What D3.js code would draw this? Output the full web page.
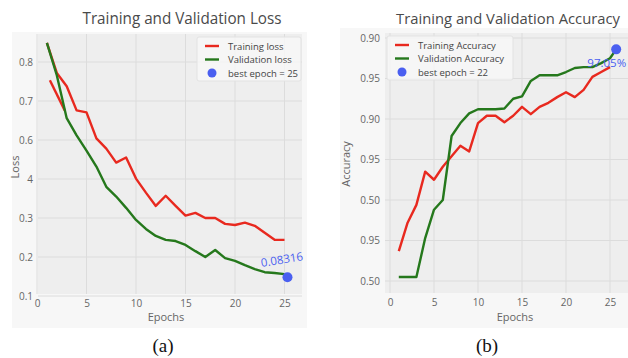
<!DOCTYPE html>
<html lang="en">
<head>
    <meta charset="UTF-8">
    <title>Training and Validation Loss / Accuracy</title>
    <script src="https://d3js.org/d3.v7.min.js"></script>
    <style>
        body { margin: 0; background: #fff; }
        text { font-family: "Open Sans", "DejaVu Sans", sans-serif; }
        .tick text { font-size: 10px; fill: #666; }
        .title { fill: #4a4a4a; }
        .axis-label { font-size: 11px; fill: #666; }
        .legend text { font-size: 9.5px; fill: #444; }
        .caption { font-family: "Liberation Serif", serif; font-size: 19px; fill: #111; }
    </style>
</head>
<body>
    <svg width="628" height="358"></svg>

    <script>
        // epochs 1..25
        const epochs = d3.range(1, 26);

        // loss panel
        const trainLoss = [0.849, 0.772, 0.738, 0.676, 0.671, 0.604, 0.578, 0.542, 0.555, 0.501,
                           0.465, 0.431, 0.457, 0.431, 0.406, 0.413, 0.400, 0.400, 0.385, 0.382,
                           0.388, 0.380, 0.362, 0.344, 0.344];
        const trainLossEarly = [[1.3, 0.753], [2.8, 0.676]];
        const valLoss = [0.849, 0.766, 0.656, 0.612, 0.573, 0.532, 0.480, 0.455, 0.426, 0.395,
                         0.372, 0.354, 0.344, 0.341, 0.331, 0.315, 0.300, 0.318, 0.297, 0.290,
                         0.279, 0.269, 0.261, 0.259, 0.256];
        const bestLoss = { epoch: 25.3, value: 0.248, label: "0.08316" };
        const lossTicks = [0.8, 0.7, 0.6, 0.5, 0.4, 0.3, 0.2];
        const lossTickLabels = ["0.8", "0.7", "0.6", "4", "0.3", "0.2", "0.1"];
        const lossLegend = ["Training loss", "Validation loss", "best epoch = 25"];

        // accuracy panel
        const trainAcc = [0.737, 0.772, 0.794, 0.835, 0.825, 0.841, 0.854, 0.867, 0.860, 0.895,
                          0.904, 0.904, 0.896, 0.904, 0.915, 0.906, 0.915, 0.920, 0.927, 0.933,
                          0.927, 0.936, 0.952, 0.958, 0.964];
        const valAcc = [0.705, 0.705, 0.705, 0.753, 0.788, 0.800, 0.879, 0.895, 0.907, 0.912,
                        0.912, 0.912, 0.913, 0.925, 0.928, 0.947, 0.954, 0.954, 0.954, 0.958,
                        0.963, 0.964, 0.964, 0.969, 0.975];
        const bestAcc = { epoch: 25.7, value: 0.986, label: "97.05%" };
        const accTicks = [1.00, 0.95, 0.90, 0.85, 0.80, 0.75, 0.70];
        const accTickLabels = ["0.90", "0.95", "0.90", "0.95", "0.50", "0.95", "0.50"];
        const accLegend = ["Training Accuracy", "Validation Accuracy", "best epoch = 22"];

        const xTicks = [0, 5, 10, 15, 20, 25];

        const red = "#e8291f", green = "#25781c", blue = "#4a5ff0";

        const svg = d3.select("svg");

        function drawPanel(p) {
            const g = svg.append("g");

            // figure background and plot area
            g.append("rect").attr("x", p.fig[0]).attr("y", p.fig[1])
                .attr("width", p.fig[2]).attr("height", p.fig[3]).attr("fill", "#f7f7f7");
            g.append("rect").attr("x", p.plot[0]).attr("y", p.plot[1])
                .attr("width", p.plot[2]).attr("height", p.plot[3]).attr("fill", "#eeeeee");

            const x = d3.scaleLinear().domain([0, 25]).range(p.xRange);
            const y = d3.scaleLinear().domain(p.yDomain).range(p.yRange);
            const top = p.plot[1], bottom = p.plot[1] + p.plot[3];
            const left = p.plot[0], right = p.plot[0] + p.plot[2];

            // grid
            g.selectAll(".vgrid").data(xTicks).enter().append("line")
                .attr("x1", d => x(d)).attr("x2", d => x(d))
                .attr("y1", top).attr("y2", bottom)
                .attr("stroke", "#dcdcdc").attr("stroke-width", 1);
            g.selectAll(".hgrid").data(p.yTicks).enter().append("line")
                .attr("x1", left).attr("x2", right)
                .attr("y1", d => y(d)).attr("y2", d => y(d))
                .attr("stroke", "#dcdcdc").attr("stroke-width", 1);

            // axes
            g.append("g").attr("transform", `translate(0,${bottom})`)
                .call(d3.axisBottom(x).tickValues(xTicks).tickSize(0).tickPadding(6))
                .call(a => a.select(".domain").remove());
            g.append("g").attr("transform", `translate(${left - 1},0)`)
                .call(d3.axisLeft(y).tickValues(p.yTicks)
                    .tickFormat((d, i) => p.yTickLabels[i]).tickSize(0).tickPadding(4))
                .call(a => a.select(".domain").remove());

            // lines
            const line = d3.line().x(d => x(d[0])).y(d => y(d[1]));
            p.lines.forEach(l => {
                g.append("path").datum(l.data)
                    .attr("d", line).attr("fill", "none")
                    .attr("stroke", l.color).attr("stroke-width", 2.4)
                    .attr("stroke-linejoin", "round");
            });

            // best point
            g.append("circle").attr("cx", x(p.best.epoch)).attr("cy", y(p.best.value))
                .attr("r", 5).attr("fill", blue);
            g.append("text")
                .attr("transform", `translate(${x(p.best.epoch) + p.labelOff[0]},${y(p.best.value) + p.labelOff[1]}) rotate(${p.labelRot})`)
                .attr("text-anchor", "end").attr("fill", blue).attr("font-size", 11.5)
                .text(p.best.label);

            // titles
            g.append("text").attr("class", "title")
                .attr("x", p.titlePos[0]).attr("y", p.titlePos[1])
                .attr("text-anchor", p.titleAnchor).attr("font-size", p.titleSize)
                .attr("textLength", p.titleLen).attr("lengthAdjust", "spacingAndGlyphs")
                .text(p.title);
            g.append("text").attr("class", "axis-label")
                .attr("x", p.xLabelX).attr("y", 321)
                .attr("text-anchor", "middle").text("Epochs");
            g.append("text").attr("class", "axis-label")
                .attr("transform", `translate(${p.yLabelPos[0]},${p.yLabelPos[1]}) rotate(-90)`)
                .attr("text-anchor", "middle").text(p.yLabel);

            // legend
            const lg = g.append("g").attr("class", "legend")
                .attr("transform", `translate(${p.legendPos[0]},${p.legendPos[1]})`);
            lg.append("rect").attr("width", p.legendW).attr("height", 44).attr("rx", 2)
                .attr("fill", "#f7f7f7").attr("fill-opacity", 0.85)
                .attr("stroke", "#e2e2e2");
            const colors = [red, green, blue];
            p.legend.forEach((t, i) => {
                const ly = 9 + i * 13.5;
                if (i < 2) {
                    lg.append("line").attr("x1", 8).attr("x2", 22).attr("y1", ly).attr("y2", ly)
                        .attr("stroke", colors[i]).attr("stroke-width", 2.4);
                } else {
                    lg.append("circle").attr("cx", 15).attr("cy", ly).attr("r", 4.5).attr("fill", blue);
                }
                lg.append("text").attr("x", 31).attr("y", ly + 3.5).text(t);
            });

            // caption
            svg.append("text").attr("class", "caption")
                .attr("x", p.caption[0]).attr("y", 352)
                .attr("text-anchor", "middle").text(p.caption[1]);
        }

        drawPanel({
            fig: [12, 32, 295, 296],
            plot: [38, 34, 264, 260],
            xRange: [37, 284.5],
            yDomain: [0.2, 0.8], yRange: [296, 62],
            yTicks: lossTicks, yTickLabels: lossTickLabels,
            lines: [
                { data: trainLossEarly, color: red },
                { data: epochs.map((e, i) => [e, trainLoss[i]]), color: red },
                { data: epochs.map((e, i) => [e, valLoss[i]]), color: green }
            ],
            best: bestLoss, labelOff: [16, -17], labelRot: -9,
            title: "Training and Validation Loss", titlePos: [182, 24], titleAnchor: "middle",
            titleLen: 199, titleSize: 16,
            yLabel: "Loss", yLabelPos: [19, 167], xLabelX: 166,
            legend: lossLegend, legendPos: [197, 37], legendW: 104,
            caption: [163, "(a)"]
        });

        drawPanel({
            fig: [340, 28, 288, 300],
            plot: [385, 33, 243, 260],
            xRange: [390, 610],
            yDomain: [0.70, 1.00], yRange: [281, 38],
            yTicks: accTicks, yTickLabels: accTickLabels,
            lines: [
                { data: epochs.map((e, i) => [e, trainAcc[i]]), color: red },
                { data: epochs.map((e, i) => [e, valAcc[i]]).concat([[bestAcc.epoch, bestAcc.value]]), color: green }
            ],
            best: bestAcc, labelOff: [10, 18], labelRot: 0,
            title: "Training and Validation Accuracy", titlePos: [396, 24], titleAnchor: "start",
            titleLen: 224, titleSize: 14.5,
            yLabel: "Accuracy", yLabelPos: [350, 164], xLabelX: 515,
            legend: accLegend, legendPos: [387, 36], legendW: 126,
            caption: [487, "(b)"]
        });
    </script>
</body>
</html>
